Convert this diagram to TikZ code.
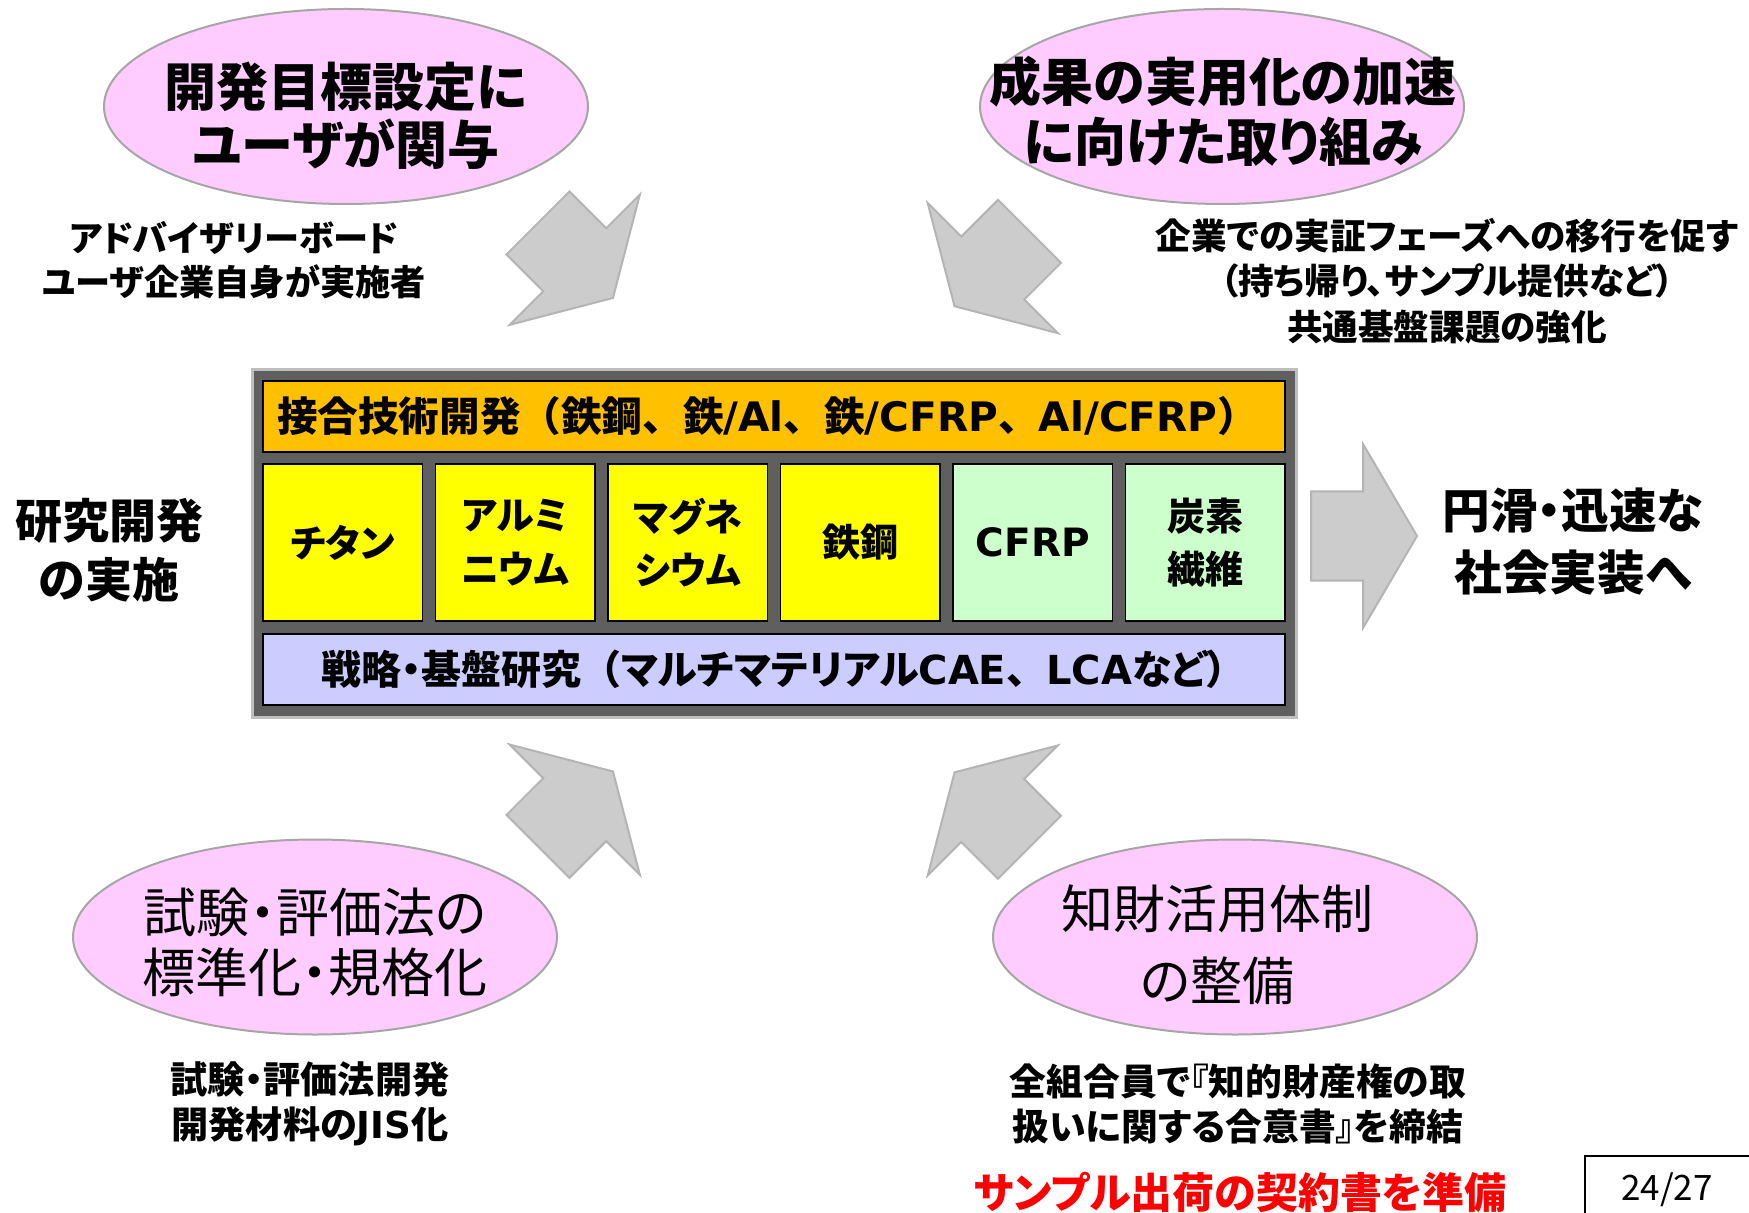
\documentclass[tikz,border=0pt]{standalone}
\usepackage{fontspec}
\usetikzlibrary{shapes.geometric}
\newfontfamily\jp[RawFeature=+palt]{Noto Sans CJK JP}
\newfontfamily\jpw{Noto Sans CJK JP}
\newfontfamily\lat{DejaVu Sans}
\definecolor{pinkfill}{HTML}{FFCCFF}
\definecolor{ellline}{HTML}{A6A6A6}
\definecolor{arrfill}{HTML}{CCCCCC}
\definecolor{arrline}{HTML}{B4B4B4}
\definecolor{outerfill}{HTML}{5F5F5F}
\definecolor{outerline}{HTML}{BFBFBF}
\definecolor{orangefill}{HTML}{FFC000}
\definecolor{yellowfill}{HTML}{FFFF00}
\definecolor{greenfill}{HTML}{CCFFCC}
\definecolor{lavfill}{HTML}{CCCCFF}
\definecolor{redtext}{HTML}{FF0000}
\tikzset{
  bubble/.style={ellipse, draw=ellline, line width=1pt, fill=pinkfill, minimum width=242pt, minimum height=97.5pt, inner sep=0pt},
  blk/.style={fill=arrfill, draw=arrline, line width=1pt, line join=miter},
  bigbold/.style={align=center, inner sep=0pt, font={\jp\bfseries\fontsize{26}{29}\selectfont}},
  bigreg/.style={align=center, inner sep=0pt, font={\jp\fontsize{26.5}{30}\selectfont}},
  subtext/.style={align=center, inner sep=0pt, font={\jp\bfseries\fontsize{17.6}{22.3}\selectfont}},
  sidetext/.style={align=center, inner sep=0pt, font={\jp\bfseries\fontsize{23.5}{29.5}\selectfont}},
  cellbox/.style={draw=black, line width=0.8pt, minimum width=79.75pt, minimum height=78.5pt, inner sep=0pt, align=center, font={\jp\bfseries\fontsize{19}{26.8}\selectfont}},
  barbox/.style={draw=black, line width=0.8pt, minimum width=511pt, minimum height=35.5pt, inner sep=0pt},
}
\newcommand\blockarrow[2]{%
  \begin{scope}[shift={#1},rotate=#2]
    \draw[blk] (0,-44.5) -- (52,-44.5) -- (52,-92) -- (106,0) -- (52,92) -- (52,44.5) -- (0,44.5) -- cycle;
  \end{scope}}
\begin{document}
\begin{tikzpicture}[x=0.5pt, y=-0.5pt]
\useasboundingbox (0,0) rectangle (1749,1213);
% ellipses
\node[bubble] (e1) at (346,106.5) {};
\node[bubble] (e2) at (1222,106.5) {};
\node[bubble] (e3) at (315,937) {};
\node[bubble] (e4) at (1235,937) {};
\node[bigbold] (t1) at (346,116) {開発目標設定に\\ユーザが関与};
\node[bigbold, font={\jp\bfseries\fontsize{26}{30}\selectfont}] (t2) at (1223,111.5) {成果の実用化の加速\\に向けた取り組み};
\node[bigreg] (t3) at (315,942) {試験・評価法の\\標準化・規格化};
\node[bigreg, font={\jp\fontsize{26}{36}\selectfont}] (t4) at (1217,945) {知財活用体制\\の整備};
% sub texts
\node[subtext] (s1) at (234,260) {アドバイザリーボード\\ユーザ企業自身が実施者};
\node[subtext, font={\jp\bfseries\fontsize{17.8}{22.7}\selectfont}] (s2) at (1447,281) {企業での実証フェーズへの移行を促す\\（持ち帰り、サンプル提供など）\\共通基盤課題の強化};
\node[subtext, font={\jp\bfseries\fontsize{18.6}{22.3}\selectfont}] (s3) at (310,1104) {試験・評価法開発\\開発材料の{\lat JIS}化};
\node[subtext, font={\jp\bfseries\fontsize{18.4}{22.3}\selectfont}] (s4) at (1238,1104) {全組合員で『知的財産権の取\\扱いに関する合意書』を締結};
\node[align=center, inner sep=0pt, text=redtext, font={\jp\bfseries\fontsize{21}{24}\selectfont}] (red) at (1240,1192) {サンプル出荷の契約書を準備};
% page number
\node[draw=black, line width=0.9pt, minimum width=100pt, minimum height=40pt, inner sep=0pt, anchor=north west] (pbox) at (1584,1155) {};
\node[inner sep=0pt, font={\jpw\fontsize{17.5}{20}\selectfont}] (pnum) at (1667,1190) {24/27};
% arrows
\blockarrow{(538,223)}{-45}
\blockarrow{(1029.5,231.3)}{-135}
\blockarrow{(538,846.4)}{45}
\blockarrow{(1029.5,847.3)}{135}
\blockarrow{(1311,536)}{0}
% side texts
\node[sidetext] (left) at (109,550.5) {研究開発\\の実施};
\node[sidetext, font={\jp\bfseries\fontsize{23.8}{31}\selectfont}] (right) at (1573,542) {円滑・迅速な\\社会実装へ};
% central block
\node[draw=outerline, line width=1.5pt, fill=outerfill, minimum width=522pt, minimum height=173.5pt, inner sep=0pt] (outer) at (774,543.5) {};
\node[barbox, fill=orangefill, text width=497pt, inner xsep=7pt, align=left, font={\jpw\bfseries\fontsize{20.3}{24}\selectfont}] (join) at (774,416.5) {接合技術開発（鉄鋼、鉄{\lat /Al}、鉄{\lat /CFRP}、{\lat Al/CFRP}）};
\node[cellbox, fill=yellowfill] (c1) at (342.75,542.5) {チタン};
\node[cellbox, fill=yellowfill] (c2) at (515.25,542.5) {アルミ\\ニウム};
\node[cellbox, fill=yellowfill] (c3) at (687.75,542.5) {マグネ\\シウム};
\node[cellbox, fill=yellowfill] (c4) at (860.25,542.5) {鉄鋼};
\node[cellbox, fill=greenfill, font={\lat\bfseries\fontsize{19.5}{24}\selectfont}] (c5) at (1032.75,542.5) {CFRP};
\node[cellbox, fill=greenfill] (c6) at (1205.25,542.5) {炭素\\繊維};
\node[barbox, fill=lavfill, font={\jp\bfseries\fontsize{20}{24}\selectfont}] (base) at (774,669.5) {戦略・基盤研究{\jpw （}マルチマテリアル{\lat CAE}{\jpw 、}{\lat LCA}など）};
\end{tikzpicture}
\end{document}
